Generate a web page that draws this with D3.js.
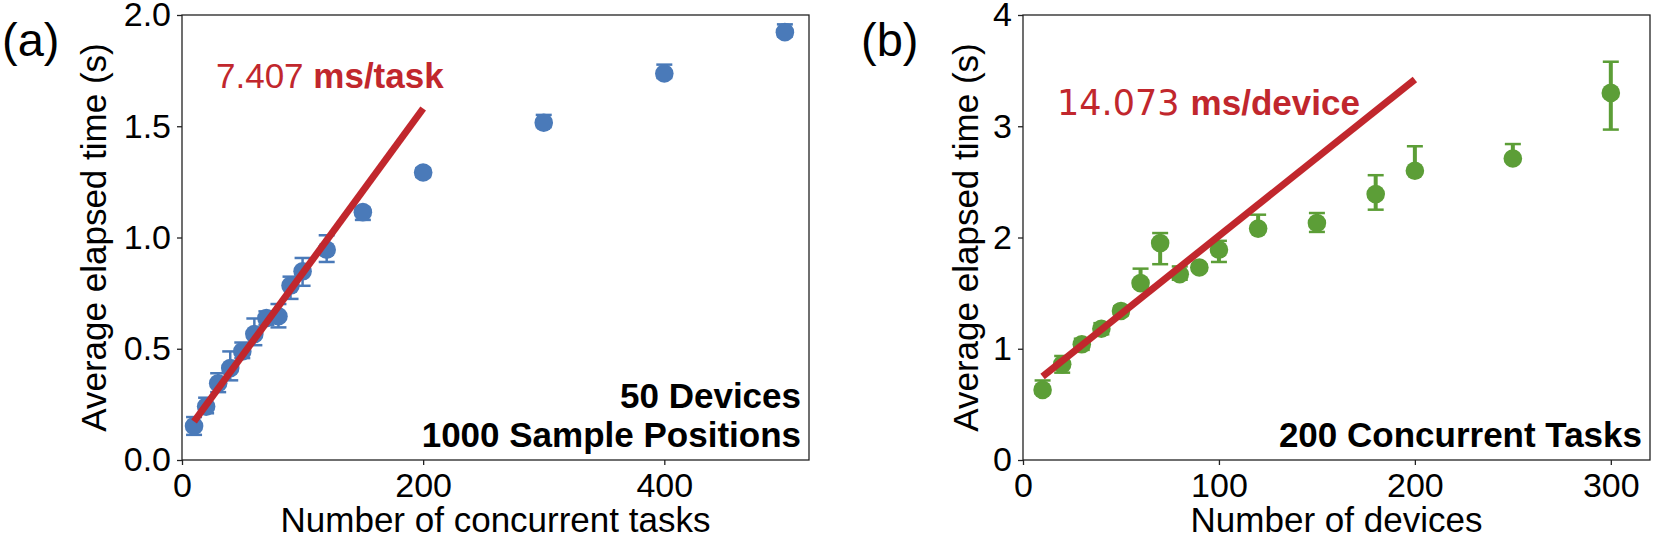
<!DOCTYPE html>
<html>
<head>
<meta charset="utf-8">
<script src="https://cdn.jsdelivr.net/npm/d3@7"></script>
<style>
  body { margin: 0; background: #fff; }
  svg text { font-family: "Liberation Sans", Arial, sans-serif; fill: #000; }
  .axis path, .axis line { stroke: #222; stroke-width: 1.3; }
  .axis text { font-size: 34px; }
</style>
</head>
<body>
<div id="chart"></div>
<script>
// panel (a): 50 devices, varying number of concurrent tasks
var tasksX = [10, 20, 30, 40, 50, 60, 70, 80, 90, 100, 120, 150, 200, 300, 400, 500];
var tasksTime = [0.153, 0.240, 0.345, 0.413, 0.488, 0.566, 0.638, 0.646, 0.784, 0.848, 0.945, 1.114, 1.292, 1.516, 1.737, 1.923];
var tasksErrLow = [0.04, 0.03, 0.04, 0.055, 0.03, 0.05, 0.03, 0.05, 0.06, 0.065, 0.055, 0.035, 0.02, 0.02, 0.02, 0.02];
var tasksErrHigh = [0.04, 0.04, 0.045, 0.075, 0.04, 0.07, 0.03, 0.055, 0.04, 0.06, 0.065, 0.02, 0.02, 0.035, 0.04, 0.035];
var tasksFit = [[10, 0.173], [200, 1.58]];

// panel (b): 200 concurrent tasks, varying number of devices
var devicesX = [10, 20, 30, 40, 50, 60, 70, 80, 90, 100, 120, 150, 180, 200, 250, 300];
var devicesTime = [0.63, 0.86, 1.04, 1.18, 1.34, 1.59, 1.95, 1.67, 1.73, 1.89, 2.08, 2.13, 2.39, 2.60, 2.71, 3.30];
var devicesErrLow = [0.03, 0.075, 0.05, 0.05, 0.04, 0.03, 0.19, 0.05, 0.03, 0.11, 0.03, 0.08, 0.14, 0.03, 0.03, 0.33];
var devicesErrHigh = [0.085, 0.075, 0.05, 0.05, 0.04, 0.13, 0.09, 0.07, 0.03, 0.08, 0.125, 0.09, 0.17, 0.22, 0.13, 0.28];
var devicesFit = [[10, 0.75], [200, 3.42]];

var ticksAx = [0, 200, 400];
var ticksAy = [0, 0.5, 1.0, 1.5, 2.0];
var ticksBx = [0, 100, 200, 300];
var ticksBy = [0, 1, 2, 3, 4];

var width = 1654, height = 539;
var svg = d3.select("#chart").append("svg")
    .attr("width", width)
    .attr("height", height);

function drawPanel(p) {
  var x = d3.scaleLinear().domain(p.xDomain).range([p.left, p.left + p.w]);
  var y = d3.scaleLinear().domain(p.yDomain).range([p.top + p.h, p.top]);
  var g = svg.append("g");

  g.append("g")
      .attr("class", "axis")
      .attr("transform", "translate(0," + (p.top + p.h) + ")")
      .call(d3.axisBottom(x).tickValues(p.xTicks).tickSize(5).tickPadding(8).tickFormat(d3.format("d")));
  g.append("g")
      .attr("class", "axis")
      .attr("transform", "translate(" + p.left + ",0)")
      .call(d3.axisLeft(y).tickValues(p.yTicks).tickSize(5).tickPadding(6).tickFormat(d3.format(p.yFormat)));
  g.selectAll(".axis .domain").remove();

  // box around plot
  g.append("rect")
      .attr("x", p.left).attr("y", p.top)
      .attr("width", p.w).attr("height", p.h)
      .style("fill", "none")
      .style("stroke", "#222")
      .style("stroke-width", 1.3);

  var pts = p.xs.map(function(d, i) {
    return {x: d, y: p.ys[i], lo: p.ys[i] - p.errLow[i], hi: p.ys[i] + p.errHigh[i]};
  });

  var eb = g.append("g").style("stroke", p.color);
  eb.selectAll("line.bar").data(pts).enter().append("line")
      .attr("x1", function(d) { return x(d.x); })
      .attr("x2", function(d) { return x(d.x); })
      .attr("y1", function(d) { return y(d.lo); })
      .attr("y2", function(d) { return y(d.hi); })
      .style("stroke-width", p.barWidth);
  ["lo", "hi"].forEach(function(k) {
    eb.selectAll("line.cap" + k).data(pts).enter().append("line")
        .attr("x1", function(d) { return x(d.x) - 8; })
        .attr("x2", function(d) { return x(d.x) + 8; })
        .attr("y1", function(d) { return y(d[k]); })
        .attr("y2", function(d) { return y(d[k]); })
        .style("stroke-width", 2.5);
  });

  g.selectAll("circle").data(pts).enter().append("circle")
      .attr("cx", function(d) { return x(d.x); })
      .attr("cy", function(d) { return y(d.y); })
      .attr("r", 9.3)
      .style("fill", p.color);

  g.append("path")
      .datum(p.fit)
      .attr("d", d3.line().x(function(d) { return x(d[0]); }).y(function(d) { return y(d[1]); }))
      .style("stroke", "#c1272d")
      .style("stroke-width", 7)
      .style("fill", "none");

  // slope annotation
  var ann = g.append("text")
      .attr("x", p.annX).attr("y", p.annY)
      .style("font-size", "35px")
      .style("fill", "#c1272d");
  ann.append("tspan").text(p.annNum + " ")
      .style("fill", "#c1272d")
      .style("font-family", p.annNumFont);
  ann.append("tspan").text(p.annUnit)
      .style("fill", "#c1272d")
      .style("font-weight", "bold");

  // condition labels, bottom right
  var lab = g.append("text")
      .attr("text-anchor", "end")
      .style("font-size", "35px")
      .style("font-weight", "bold");
  p.notes.forEach(function(t, i) {
    lab.append("tspan")
        .attr("x", p.left + p.w - 8)
        .attr("y", p.top + p.h - 13 - (p.notes.length - 1 - i) * 39)
        .text(t);
  });

  g.append("text")
      .attr("x", p.left + p.w / 2)
      .attr("y", 532)
      .attr("text-anchor", "middle")
      .style("font-size", "35px")
      .text(p.xLabel);
  g.append("text")
      .attr("transform", "translate(" + (p.left - p.yLabelGap) + "," + (p.top + p.h / 2) + ") rotate(-90)")
      .attr("text-anchor", "middle")
      .style("font-size", "35px")
      .text("Average elapsed time (s)");

  g.append("text")
      .attr("x", p.tagX).attr("y", 56)
      .style("font-size", "47px")
      .text(p.tag);
}

drawPanel({
  left: 182, top: 15, w: 627, h: 445,
  xDomain: [0, 520], yDomain: [0, 2],
  xTicks: ticksAx, yTicks: ticksAy, yFormat: ".1f",
  xs: tasksX, ys: tasksTime, errLow: tasksErrLow, errHigh: tasksErrHigh,
  fit: tasksFit, color: "#4a7ab9", barWidth: 2.5,
  annX: 216, annY: 88, annNum: "7.407", annUnit: "ms/task", annNumFont: "Liberation Sans",
  notes: ["50 Devices", "1000 Sample Positions"],
  xLabel: "Number of concurrent tasks", yLabelGap: 76,
  tag: "(a)", tagX: 2
});

drawPanel({
  left: 1023, top: 15, w: 627, h: 445,
  xDomain: [0, 320], yDomain: [0, 4],
  xTicks: ticksBx, yTicks: ticksBy, yFormat: "d",
  xs: devicesX, ys: devicesTime, errLow: devicesErrLow, errHigh: devicesErrHigh,
  fit: devicesFit, color: "#5c9e37", barWidth: 4,
  annX: 1057, annY: 115, annNum: "14.073", annUnit: "ms/device", annNumFont: "DejaVu Sans",
  notes: ["200 Concurrent Tasks"],
  xLabel: "Number of devices", yLabelGap: 45,
  tag: "(b)", tagX: 861
});
</script>
</body>
</html>
